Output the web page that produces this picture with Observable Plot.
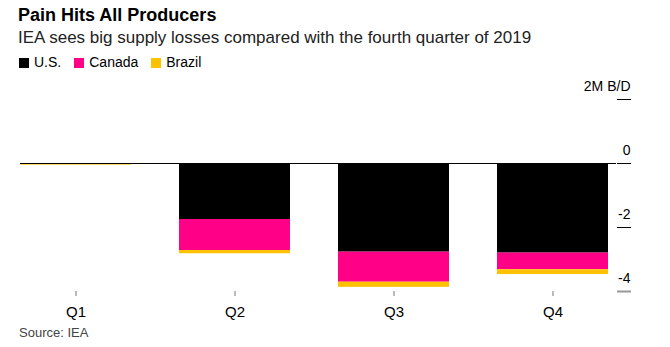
<!DOCTYPE html>
<html>
<head>
<meta charset="utf-8">
<script src="https://cdn.jsdelivr.net/npm/d3@7"></script>
<script src="https://cdn.jsdelivr.net/npm/@observablehq/plot@0.6"></script>
<style>
  body { margin: 0; background: #fff; font-family: "Liberation Sans", Arial, sans-serif; color: #000; }
  #wrap { position: relative; width: 670px; height: 347px; }
  .title { position: absolute; left: 18px; top: 4px; font-size: 18px; font-weight: bold; line-height: 22px; }
  .subtitle { position: absolute; left: 18px; top: 28px; font-size: 17px; line-height: 20px; color: #222; }
  .legend { position: absolute; left: 19px; top: 53px; font-size: 14px; line-height: 18px; display: flex; gap: 13px; }
  .legend span.sw { display: inline-block; width: 10px; height: 10px; margin-right: 5px; vertical-align: -1px; }
  #chart { position: absolute; left: 0; top: 72px; }
  .source { position: absolute; left: 19px; top: 325px; font-size: 13px; line-height: 16px; color: #444; }
</style>
</head>
<body>
<div id="wrap">
  <div class="title">Pain Hits All Producers</div>
  <div class="subtitle">IEA sees big supply losses compared with the fourth quarter of 2019</div>
  <div class="legend" id="legend"></div>
  <div id="chart"></div>
  <div class="source">Source: IEA</div>
</div>
<script>
const quarters = ["Q1", "Q2", "Q3", "Q4"];
const series = ["U.S.", "Canada", "Brazil"];
const colors = ["#000000", "#ff0087", "#ffc200"];
const us = [-0.03, -1.75, -2.77, -2.80];
const canada = [0, -0.97, -0.94, -0.52];
const brazil = [-0.02, -0.10, -0.16, -0.15];
const yTicks = [2, 0, -2, -4];
const yTickLabels = ["2M B/D", "0", "-2", "-4"];

const values = [us, canada, brazil];
const data = [];
series.forEach((s, i) => quarters.forEach((q, j) => data.push({quarter: q, series: s, value: values[i][j]})));

const legend = document.getElementById("legend");
series.forEach((s, i) => {
  const el = document.createElement("div");
  el.innerHTML = `<span class="sw" style="background:${colors[i]}"></span>${s}`;
  legend.appendChild(el);
});

const fmt = d => yTickLabels[yTicks.indexOf(d)];

const chart = Plot.plot({
  width: 670,
  height: 250,
  marginLeft: 20,
  marginRight: 54,
  marginTop: 27,
  marginBottom: 31,
  style: {fontFamily: "'Liberation Sans', Arial, sans-serif", background: "transparent"},
  x: {domain: quarters, paddingInner: 0.3, paddingOuter: 0.022, align: 0, label: null},
  y: {domain: [-4, 2], label: null},
  color: {domain: series, range: colors},
  marks: [
    Plot.barY(data, {x: "quarter", y: "value", fill: "series", order: series}),
    Plot.ruleY([0], {stroke: "#000", strokeWidth: 1}),
    Plot.axisY({anchor: "right", ticks: yTicks.slice(0, 3), tickSize: 14, tickFormat: () => "", stroke: "#000", label: null}),
    Plot.axisY({anchor: "right", ticks: yTicks.slice(3), tickSize: 14, tickFormat: () => "", stroke: "#999", strokeWidth: 2, label: null}),
    Plot.text(yTicks, {y: d => d, text: fmt, frameAnchor: "right", dx: 14, dy: -13, textAnchor: "end", fontSize: 14, fill: "#000"}),
    Plot.axisX({anchor: "bottom", tickSize: 5, tickPadding: 10, stroke: "#777", fill: "#000", fontSize: 15, label: null})
  ]
});
document.getElementById("chart").appendChild(chart);
</script>
</body>
</html>
